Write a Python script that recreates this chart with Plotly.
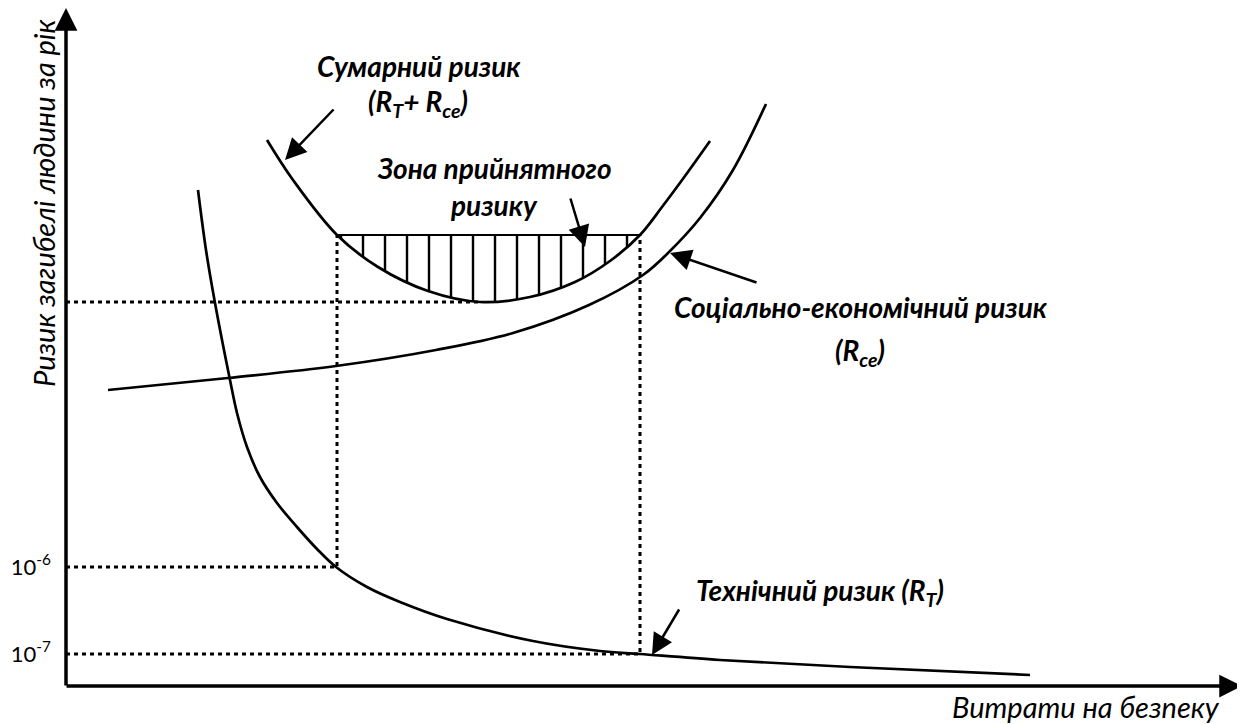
import plotly.graph_objects as go

# Coordinates: x = costs (units from axis origin), y = risk level (units above x-axis)
# Technical risk R_T
tech_x = [132, 140, 149, 164, 171, 181, 194, 211, 231, 251, 270, 301, 334, 381, 467, 534, 574, 654, 784, 964]
tech_y = [496, 436, 383, 306, 273, 239, 209, 183, 159, 137, 119, 99, 84, 67, 45, 35, 32, 26, 19, 11]

# Socio-economic risk R_ce
soc_x = [42, 162, 270, 370, 447, 523, 577, 604, 634, 667, 700]
soc_y = [296, 308, 320, 336, 353, 381, 411, 435, 468, 516, 582]

# Total risk R_T + R_ce
tot_x = [201, 227, 271, 312, 362, 414, 464, 509, 544, 574, 596, 619, 644]
tot_y = [546, 506, 451, 419, 395, 384, 389, 404, 425, 451, 479, 510, 545]

# Acceptable zone bounds
zone_x = [271, 574]
zone_level = 451
min_level = 384
min_x = 414
tick_vals = [119, 32]
tick_text = ["10<sup>-6</sup>", "10<sup>-7</sup>"]

FONT = "Lato, 'Noto Sans', sans-serif"
BLACK = "#000000"

XR = [0, 1179]
YR = [0, 678]

fig = go.Figure()

# hatched acceptable-risk zone
zi = [i for i, x in enumerate(tot_x) if zone_x[0] <= x <= zone_x[1]]
fig.add_trace(go.Scatter(
    x=[tot_x[i] for i in zi], y=[tot_y[i] for i in zi],
    mode="lines", line=dict(width=0, shape="spline"),
    fill="toself", fillcolor="rgba(0,0,0,0)",
    fillpattern=dict(shape="|", size=22, solidity=0.11, fgcolor=BLACK, fgopacity=1,
                     bgcolor="rgba(0,0,0,0)"),
    hoverinfo="skip", showlegend=False))
fig.add_trace(go.Scatter(x=zone_x, y=[zone_level, zone_level], mode="lines",
                         line=dict(color=BLACK, width=2), showlegend=False))

# dotted guide lines
dot = dict(color=BLACK, width=3, dash="4px,4px")
fig.add_trace(go.Scatter(x=[0, min_x], y=[min_level, min_level], mode="lines", line=dot, showlegend=False))
fig.add_trace(go.Scatter(x=[0, zone_x[0], zone_x[0]], y=[tick_vals[0], tick_vals[0], zone_level],
                         mode="lines", line=dot, showlegend=False))
fig.add_trace(go.Scatter(x=[0, zone_x[1], zone_x[1]], y=[tick_vals[1], tick_vals[1], zone_level],
                         mode="lines", line=dot, showlegend=False))

# curves
for xs, ys in [(tech_x, tech_y), (soc_x, soc_y), (tot_x, tot_y)]:
    fig.add_trace(go.Scatter(x=xs, y=ys, mode="lines",
                             line=dict(color=BLACK, width=2.7, shape="spline", smoothing=1.0),
                             showlegend=False))

ann = []
# axes with arrows
ann.append(dict(x=0, y=YR[1], ax=0, ay=-1, xref="x", yref="y", axref="x", ayref="y",
                showarrow=True, arrowhead=2, arrowsize=1.3, arrowwidth=3.5, arrowcolor=BLACK, text=""))
ann.append(dict(x=1176, y=0, ax=-1, ay=0, xref="x", yref="y", axref="x", ayref="y",
                showarrow=True, arrowhead=2, arrowsize=1.3, arrowwidth=3.5, arrowcolor=BLACK, text=""))
# pointer arrows
for (tx, ty, hx, hy) in [(269, 578, 219, 526), (504, 489, 519, 439), (692, 403, 604, 433), (614, 78, 586, 31)]:
    ann.append(dict(x=hx, y=hy, ax=tx, ay=ty, xref="x", yref="y", axref="x", ayref="y",
                    showarrow=True, arrowhead=2, arrowsize=1.7, arrowwidth=2.5, arrowcolor=BLACK, text=""))

lab_font = dict(family=FONT, size=28, color=BLACK)
def label(text, x, y, **kw):
    d = dict(text=text, x=x, y=y, xref="x", yref="y", showarrow=False, font=lab_font)
    d.update(kw)
    ann.append(d)

label("<b><i>Сумарний ризик</i></b>", 352, 620)
label("<b><i>(R<sub>T</sub>+ R<sub>ce</sub>)</i></b>", 352, 583)
label("<b><i>Зона прийнятного</i></b>", 428, 518)
label("<b><i>ризику</i></b>", 428, 481)
label("<b><i>Соціально-економічний ризик</i></b>", 794, 379)
label("<b><i>(R<sub>ce</sub>)</i></b>", 794, 334)
label("<b><i>Технічний ризик (R<sub>T</sub>)</i></b>", 754, 94)

# texts outside the plot area, in paper coordinates
ann.append(dict(text="<i>Витрати на безпеку</i>", x=(1222 - 66) / 1179, y=(686 - 706) / 678,
                xref="paper", yref="paper", xanchor="right", yanchor="middle", showarrow=False,
                font=dict(family=FONT, size=29, color=BLACK)))
ann.append(dict(text="<i>Ризик загибелі людини за рік</i>", x=(44 - 66) / 1179, y=(686 - 204) / 678,
                xref="paper", yref="paper", xanchor="center", yanchor="middle", showarrow=False,
                textangle=-90, font=dict(family=FONT, size=29, color=BLACK)))

fig.update_layout(
    width=1237, height=716,
    margin=dict(l=58, r=0, t=0, b=38),
    paper_bgcolor="white", plot_bgcolor="white",
    xaxis=dict(range=XR, showgrid=False, zeroline=False, showline=False,
               showticklabels=False, ticks=""),
    yaxis=dict(range=YR, showgrid=False, zeroline=False, showline=False,
               tickvals=tick_vals, ticktext=tick_text, ticks="", ticklabelstandoff=14,
               tickfont=dict(family=FONT, size=22, color=BLACK)),
    annotations=ann,
)
fig.write_html("out.html")
